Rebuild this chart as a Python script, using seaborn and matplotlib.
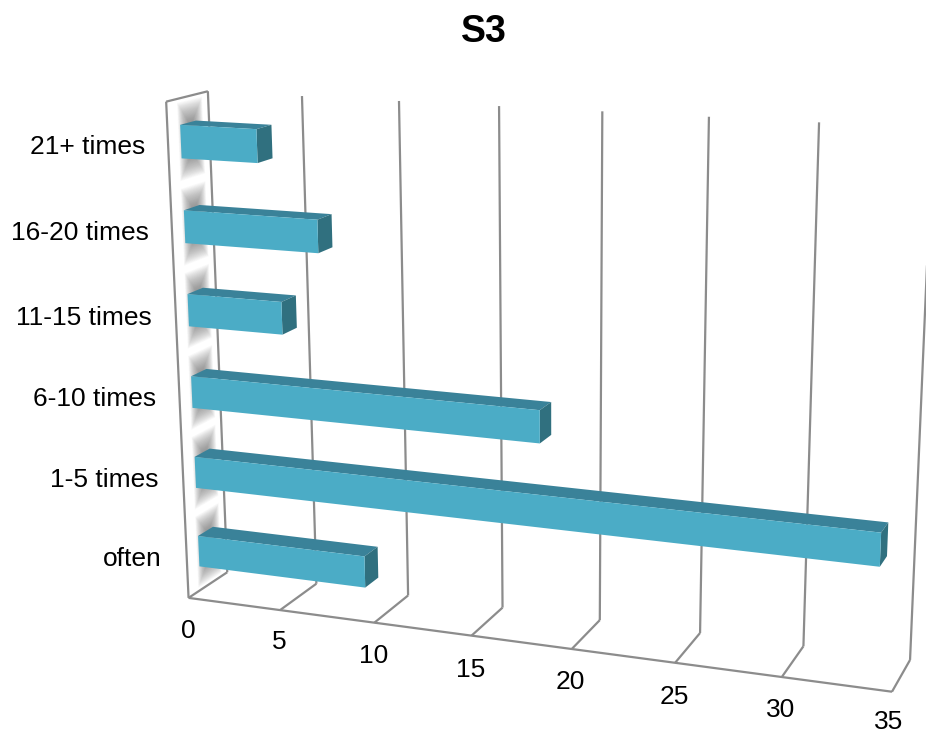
import numpy as np
import pandas as pd
import matplotlib
matplotlib.use("Agg")
import matplotlib.pyplot as plt
from matplotlib.transforms import Transform
import seaborn as sns

# --- data ---
categories = ['often', '1-5 times', '6-10 times', '11-15 times', '16-20 times', '21+ times']
values = [9, 34, 18, 5, 7, 4]
x_ticks = [0, 5, 10, 15, 20, 25, 30, 35]

W, H = 926, 734
FRONT, TOP, SIDE = '#4BACC6', '#3A8299', '#30707F'
GRID = '#8C8C8C'
BAR_W = 0.39
D0, D1 = 0.30, 0.68

# --- camera fit: (value, depth, height) -> reference pixel, measured on the walls ---
anchors = [
    (0, 0, 0, 188, 598), (5, 0, 0, 280, 610), (10, 0, 0, 375, 623),
    (30, 0, 0, 782, 676), (35, 0, 0, 892, 692),
    (0, 1, 0, 227, 572), (5, 1, 0, 317, 583), (10, 1, 0, 408, 596),
    (30, 1, 0, 803, 647), (35, 1, 0, 910, 660),
    (0, 1, 1, 208, 91), (0, 0, 1, 166, 102), (5, 1, 1, 302, 97),
    (10, 1, 1, 399, 100), (25, 1, 1, 709, 117), (30, 1, 1, 819, 122),
]
rows = []
for x, d, h, px, py in anchors:
    p = [x / 35, d, h, 1]
    u, v = px / 1000, py / 1000
    rows.append(p + [0, 0, 0, 0] + [-u * c for c in p])
    rows.append([0, 0, 0, 0] + p + [-v * c for c in p])
CAM = np.linalg.svd(np.array(rows))[2][-1].reshape(3, 4)


def project(x, d, h):
    p = np.column_stack([np.asarray(x) / 35, d, h, np.ones(len(x))])
    q = p @ CAM.T
    return np.column_stack([1000 * q[:, 0] / q[:, 2], H - 1000 * q[:, 1] / q[:, 2]])


def cat_h(c):
    return (np.asarray(c) + 0.5) / len(categories)


class Face(Transform):
    """Maps 2D coords lying on one plane of the 3D box to display pixels."""
    input_dims = output_dims = 2
    is_separable = False
    has_inverse = False

    def __init__(self, plane, level):
        super().__init__()
        self.plane, self.level = plane, level

    def transform_non_affine(self, pts):
        pts = np.asarray(pts, dtype=float).reshape(-1, 2)
        a, b = pts[:, 0], pts[:, 1]
        k = np.full(len(pts), float(self.level))
        if self.plane == 'depth':      # a = value, b = category
            return project(a, k, cat_h(b))
        if self.plane == 'height':     # a = value, b = depth
            return project(a, b, k)
        return project(k, a, cat_h(b))  # a = depth, b = category


sns.set_theme(style='white')
plt.rcParams['font.family'] = ['Liberation Sans', 'DejaVu Sans']

fig = plt.figure(figsize=(W / 100, H / 100), dpi=100)
ax = fig.add_axes([0, 0, 1, 1])

df = pd.DataFrame({'cat': categories, 'val': values})
sns.barplot(data=df, y='cat', x='val', order=categories, color=FRONT, saturation=1,
            width=BAR_W, errorbar=None, linewidth=0, zorder=5, ax=ax)
for p in ax.patches:
    p.set_transform(Face('depth', D0))

# --- soft shadows on the side wall ---
wall = Face('value', 0)
for i in range(len(categories)):
    for e in np.linspace(1, 0, 30):
        hw = 0.04 + 0.26 * e
        hc = BAR_W / 2 + 0.26 * e
        ax.fill([0.55 - hw, 0.55 + hw, 0.55 + hw, 0.55 - hw],
                [i - hc, i - hc, i + hc, i + hc],
                color='#666666', alpha=0.03, lw=0, zorder=1, transform=wall)

# --- grid: floor lines and back wall verticals ---
floor = Face('height', 0)
back = Face('depth', 1)
front_wall = Face('depth', 0)
line = dict(color=GRID, lw=1.6, zorder=2, solid_joinstyle='miter', solid_capstyle='butt')
for t in x_ticks:
    ax.plot([t, t], [0, 1], transform=floor, **line)
    ax.plot([t, t], [-0.5, 5.5], transform=back, **line)
ax.plot([0, 35], [-0.5, -0.5], transform=front_wall, **line)
ax.plot([0, 0], [-0.5, 5.5], transform=front_wall, **line)
ax.plot([0, 1], [5.5, 5.5], transform=wall, **line)

# --- top and end faces of the bars ---
for i, v in enumerate(values):
    ax.fill([0, v, v, 0], [D0, D0, D1, D1], color=TOP, lw=0, zorder=4,
            transform=Face('height', cat_h(i + BAR_W / 2)))
    ax.fill([D0, D1, D1, D0], [i - BAR_W / 2, i - BAR_W / 2, i + BAR_W / 2, i + BAR_W / 2],
            color=SIDE, lw=0, zorder=4, transform=Face('value', v))

ax.set_xlim(0, 35)
ax.set_ylim(-0.5, 5.5)
ax.axis('off')

# --- labels ---
tick_xy = [(188, 631), (279, 642), (374, 656), (471, 670), (570, 682), (674, 697), (781, 710), (889, 722)]
for t, (px, py) in zip(x_ticks, tick_xy):
    fig.text(px / W, 1 - py / H, str(t), ha='center', va='center', fontsize=19, color='black')
cat_xy = [(162, 559), (159, 480), (156, 399), (152, 318), (149, 233), (145, 147)]
for c, (px, py) in zip(categories, cat_xy):
    fig.text(px / W, 1 - py / H, c, ha='right', va='center', fontsize=19, color='black')
fig.text(483.5 / W, 1 - 32 / H, 'S3', ha='center', va='center', fontsize=27, fontweight='bold', color='black')

fig.savefig('out.png', dpi=100)
